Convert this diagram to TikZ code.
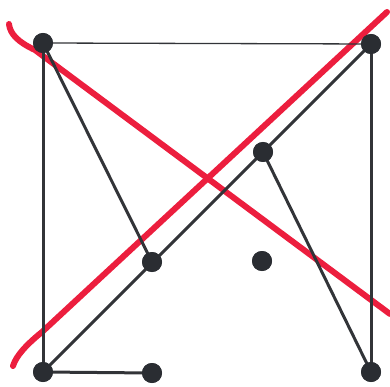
\documentclass[tikz,border=0pt]{standalone}
\begin{document}
\begin{tikzpicture}[x=1pt,y=-1pt,
  dot/.style={circle,fill=dotc,inner sep=0pt,minimum size=20pt},
  edge/.style={draw=linec,line width=3pt},
  thinedge/.style={draw=linec,line width=1.3pt},
  redline/.style={draw=redc,line width=6pt,line cap=round,line join=round}]
\definecolor{dotc}{RGB}{42,45,50}
\definecolor{linec}{RGB}{50,52,56}
\definecolor{redc}{RGB}{236,30,62}
\useasboundingbox (0,0) rectangle (390,387);
% red strokes
\draw[redline] (9,24) .. controls (10,34) and (18,42) .. (35,50) -- (390,314);
\draw[redline] (13,366) .. controls (16,356) and (26,345) .. (42,332) -- (387,12);
% nodes
\node[dot] (A) at (43,43) {};
\node[dot] (B) at (371,44) {};
\node[dot] (C) at (263,152) {};
\node[dot] (D) at (152,262) {};
\node[dot] (E) at (262,261) {};
\node[dot] (F) at (43,372) {};
\node[dot] (G) at (152,373) {};
\node[dot] (H) at (371,372) {};
% edges
\path[thinedge] (A.center) -- (B.center);
\path[edge] (A.center) -- (F.center);
\path[edge] (A.center) -- (D.center);
\path[edge] (B.center) -- (F.center);
\path[edge] (B.center) -- (H.center);
\path[edge] (C.center) -- (H.center);
\path[edge] (F.center) -- (G.center);
% redraw dots on top of the edges
\foreach \n in {A,B,C,D,E,F,G,H} \fill[dotc] (\n.center) circle (10pt);
\end{tikzpicture}
\end{document}
